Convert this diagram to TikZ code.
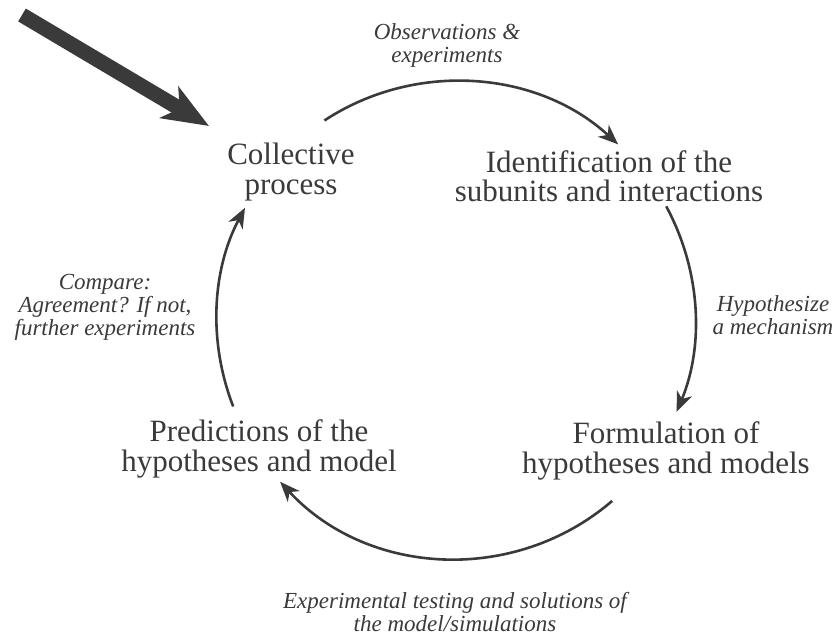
\documentclass[tikz,border=0pt]{standalone}
\usepackage{fontspec}
\setmainfont{Liberation Serif}
\usetikzlibrary{arrows.meta, positioning}
\definecolor{ink}{HTML}{3A3A3A}
\tikzstyle{stage} = [align=center, text=ink, font=\fontsize{31}{29.5}\selectfont]
\tikzstyle{note} = [align=center, text=ink, font=\fontsize{23}{23}\selectfont\itshape]
\tikzstyle{arrow} = [draw=ink, line width=2.6pt, -{Stealth[length=20pt, width=16pt, inset=6pt]}]
\tikzstyle{bigarrow} = [draw=ink, line width=15pt, -{Stealth[length=46pt, width=36pt, inset=12pt]}]

\begin{document}
\begin{tikzpicture}[x=1pt, y=1pt]
\useasboundingbox (0,0) rectangle (834,638);

% Nodes
\node (collective) [stage] at (291,466) {Collective\\process};
\node (ident) [stage] at (609,462) {Identification of the\\subunits and interactions};
\node (formul) [stage] at (666,187) {Formulation of\\hypotheses and models};
\node (predict) [stage] at (259,189) {Predictions of the\\hypotheses and model};

\node (obs) [note] at (447,593) {Observations \&\\experiments};
\node (hypo) [note] at (773,323) {Hypothesize\\a mechanism};
\node (test) [note] at (455,26) {Experimental testing and solutions of\\the model/simulations};
\node (compare) [note] at (105,331) {Compare:\\Agreement? If not,\\further experiments};

% Cycle points
\coordinate (hub) at (456,318);
\path (hub) ++(123.4:239) coordinate (top1);
\path (hub) ++(47.3:239) coordinate (top2);
\path (hub) ++(28.4:239) coordinate (right1);
\path (hub) ++(-22.6:239) coordinate (right2);
\path (hub) ++(-49.2:239) coordinate (bot1);
\path (hub) ++(-137.4:239) coordinate (bot2);
\path (hub) ++(201.2:239) coordinate (left1);
\path (hub) ++(152:239) coordinate (left2);

\coordinate (src) at (22,623);
\coordinate (entry) at (209,512);

% Connections
\draw [bigarrow] (src) -- (entry);
\draw [arrow] (top1) to[bend left=38, looseness=0.95] (top2);
\draw [arrow] (right1) to[bend left=25.5, looseness=0.9] (right2);
\draw [arrow] (bot1) to[bend left=44, looseness=0.99] (bot2);
\draw [arrow] (left1) to[bend left=24.6, looseness=0.9] (left2);

\end{tikzpicture}
\end{document}
